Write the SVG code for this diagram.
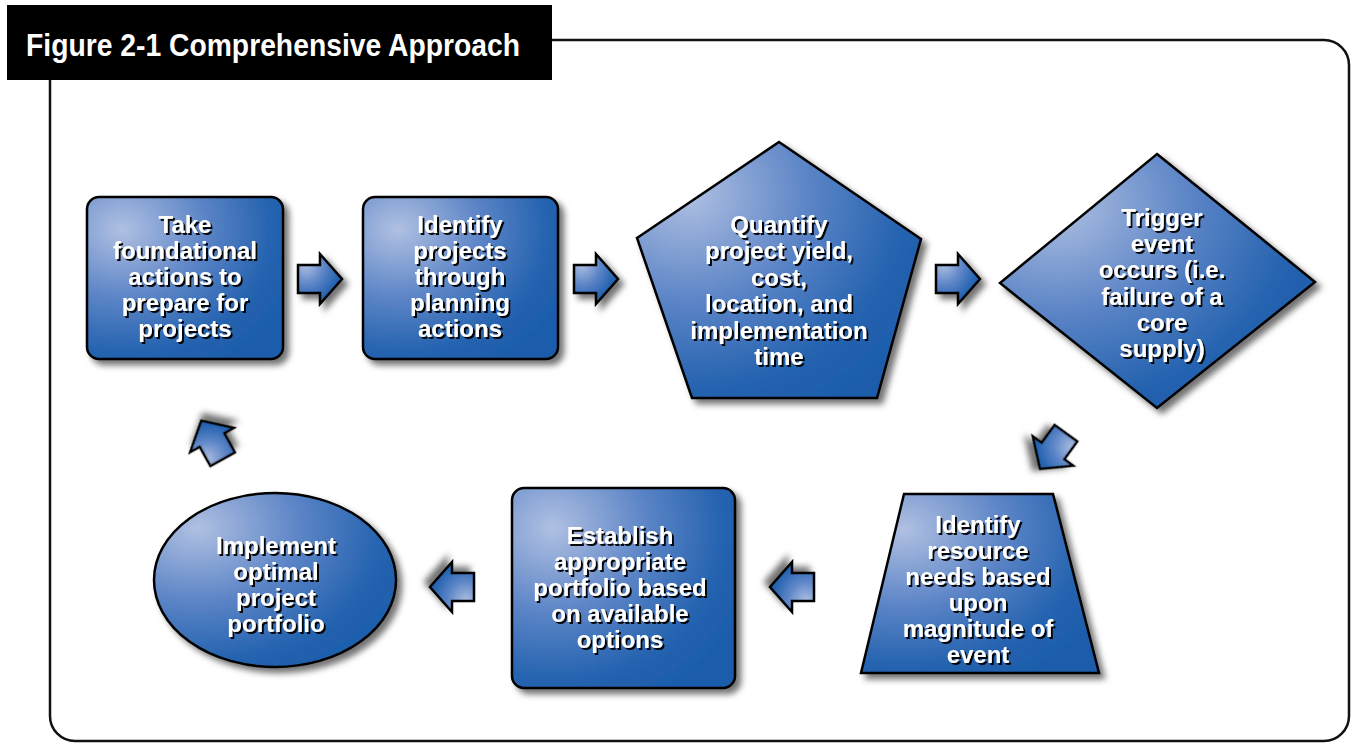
<svg xmlns="http://www.w3.org/2000/svg" xmlns:xlink="http://www.w3.org/1999/xlink" width="1351" height="744" viewBox="0 0 1351 744">
<defs>
<radialGradient id="blue" cx="0.18" cy="0.2" r="0.95" fx="0.18" fy="0.2">
<stop offset="0" stop-color="#b0c0e2"/>
<stop offset="0.45" stop-color="#5b84c6"/>
<stop offset="0.8" stop-color="#2563b0"/>
<stop offset="1" stop-color="#1d5dab"/>
</radialGradient>
<filter id="shd" x="-20%" y="-20%" width="150%" height="150%">
<feDropShadow dx="5" dy="5" stdDeviation="3" flood-color="#000" flood-opacity="0.55"/>
</filter>
<filter id="tshd" x="-10%" y="-10%" width="130%" height="140%">
<feDropShadow dx="2" dy="2" stdDeviation="0.6" flood-color="#000" flood-opacity="0.95"/>
</filter>
<path id="arr" d="M-22,-14 L0,-14 L0,-25 L22,0 L0,25 L0,14 L-22,14 Z"/>
</defs>
<style>
.shape{fill:url(#blue);stroke:#000;stroke-width:2.5;stroke-linejoin:miter;filter:url(#shd)}
.lbl{font-family:"Liberation Sans",Arial,sans-serif;font-weight:bold;font-size:24px;fill:#fff;text-anchor:middle;filter:url(#tshd)}
.arrow{fill:url(#blue);stroke:#000;stroke-width:2.5;filter:url(#shd)}
</style>
<rect width="1351" height="744" fill="#fff"/>
<g id="frame">
<rect x="50" y="40" width="1299" height="701" rx="25" ry="25" fill="none" stroke="#111" stroke-width="2.5"/>
<rect x="7" y="5" width="545" height="75" fill="#000"/>
<text x="26" y="56" font-family="'Liberation Sans',Arial,sans-serif" font-weight="bold" font-size="32" fill="#fff" textLength="494" lengthAdjust="spacingAndGlyphs">Figure 2-1 Comprehensive Approach</text>
</g>
<g id="n1">
<rect class="shape" x="87" y="197" width="196" height="162" rx="12" ry="12"/>
<text class="lbl" x="185"><tspan x="185" y="233">Take</tspan><tspan x="185" y="259">foundational</tspan><tspan x="185" y="285">actions to</tspan><tspan x="185" y="311">prepare for</tspan><tspan x="185" y="337">projects</tspan></text>
</g>
<g id="n2">
<rect class="shape" x="363" y="197" width="195" height="162" rx="12" ry="12"/>
<text class="lbl" x="460"><tspan x="460" y="233">Identify</tspan><tspan x="460" y="259">projects</tspan><tspan x="460" y="285">through</tspan><tspan x="460" y="311">planning</tspan><tspan x="460" y="337">actions</tspan></text>
</g>
<g id="n3">
<polygon class="shape" points="779,142 921,239 877,398 692,398 637,238"/>
<text class="lbl" x="779"><tspan x="779" y="233">Quantify</tspan><tspan x="779" y="259">project yield,</tspan><tspan x="779" y="286">cost,</tspan><tspan x="779" y="312">location, and</tspan><tspan x="779" y="339">implementation</tspan><tspan x="779" y="365">time</tspan></text>
</g>
<g id="n4">
<polygon class="shape" points="1157,154 1315,282 1157,408 1000,283"/>
<text class="lbl" x="1162"><tspan x="1162" y="226">Trigger</tspan><tspan x="1162" y="252">event</tspan><tspan x="1162" y="278">occurs (i.e.</tspan><tspan x="1162" y="305">failure of a</tspan><tspan x="1162" y="331">core</tspan><tspan x="1162" y="357">supply)</tspan></text>
</g>
<g id="n5">
<polygon class="shape" points="904,494 1053,494 1099,673 861,673"/>
<text class="lbl" x="978"><tspan x="978" y="533">Identify</tspan><tspan x="978" y="559">resource</tspan><tspan x="978" y="585">needs based</tspan><tspan x="978" y="611">upon</tspan><tspan x="978" y="637">magnitude of</tspan><tspan x="978" y="663">event</tspan></text>
</g>
<g id="n6">
<rect class="shape" x="512" y="488" width="223" height="200" rx="12" ry="12"/>
<text class="lbl" x="620"><tspan x="620" y="544">Establish</tspan><tspan x="620" y="570">appropriate</tspan><tspan x="620" y="596">portfolio based</tspan><tspan x="620" y="622">on available</tspan><tspan x="620" y="648">options</tspan></text>
</g>
<g id="n7">
<ellipse class="shape" cx="275" cy="580" rx="121" ry="87"/>
<text class="lbl" x="276"><tspan x="276" y="554">Implement</tspan><tspan x="276" y="580">optimal</tspan><tspan x="276" y="606">project</tspan><tspan x="276" y="632">portfolio</tspan></text>
</g>
<g id="connectors">
<use class="arrow" xlink:href="#arr" transform="translate(320,279)"/>
<use class="arrow" xlink:href="#arr" transform="translate(596,279)"/>
<use class="arrow" xlink:href="#arr" transform="translate(958,279)"/>
<use class="arrow" xlink:href="#arr" transform="translate(1053,451) rotate(126)"/>
<use class="arrow" xlink:href="#arr" transform="translate(792,587) rotate(180)"/>
<use class="arrow" xlink:href="#arr" transform="translate(452,587) rotate(180)"/>
<use class="arrow" xlink:href="#arr" transform="translate(212,440) rotate(-119)"/>
</g>
</svg>
